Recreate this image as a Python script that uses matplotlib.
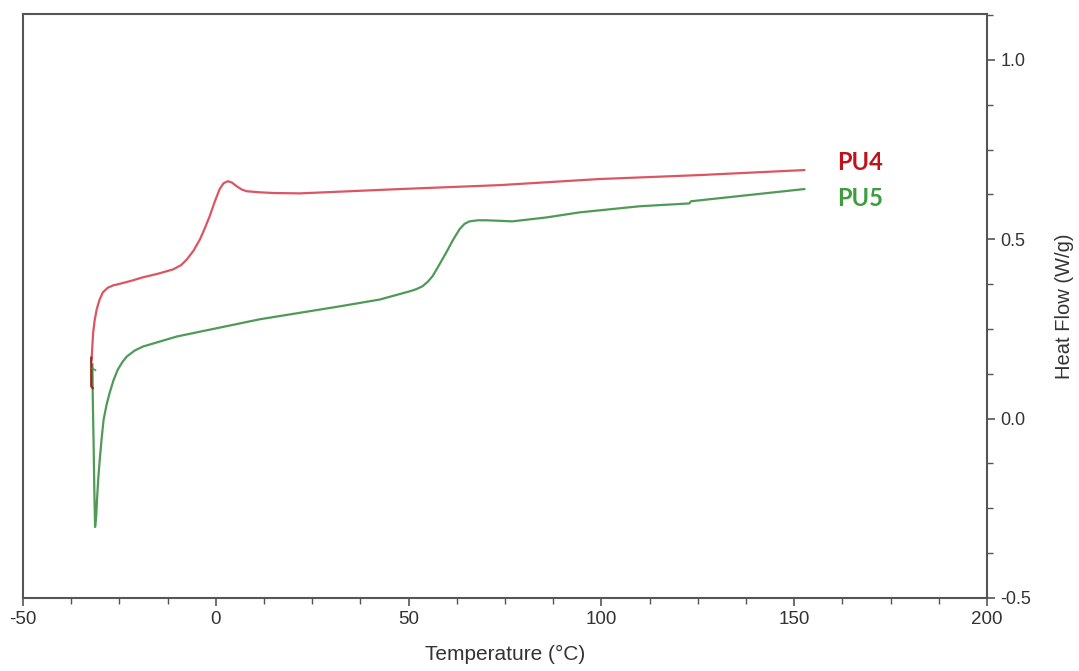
import matplotlib.pyplot as plt
from matplotlib.ticker import MultipleLocator

# Curvas DSC
temp_pu4 = [-32.2, -32.0, -31.8, -31.4, -30.9, -30.2, -29.3, -28.0, -26.5, -25.6,
            -22.0, -18.9, -15.0, -11.1, -9.0, -7.5, -5.8, -4.1, -2.8, -1.6,
            -0.3, 1.0, 2.0, 3.1, 4.2, 5.4, 6.7, 8.0, 11.4, 15.0,
            21.8, 47.7, 73.6, 99.5, 125.4, 152.6]
flujo_pu4 = [0.165, 0.205, 0.240, 0.275, 0.304, 0.330, 0.352, 0.365, 0.372, 0.374,
             0.384, 0.394, 0.404, 0.416, 0.428, 0.444, 0.468, 0.500, 0.532, 0.564,
             0.604, 0.640, 0.656, 0.662, 0.658, 0.648, 0.639, 0.634, 0.631, 0.629,
             0.628, 0.640, 0.651, 0.668, 0.679, 0.693]

temp_pu5 = [-32.0, -31.9, -31.7, -31.5, -31.3, -31.0, -30.8, -30.5, -30.1, -29.6,
            -29.1, -28.3, -27.5, -26.5, -25.4, -24.2, -23.1, -21.0, -18.9, -10.1,
            11.4, 32.1, 42.5, 50.3, 52.0, 53.6, 55.0, 56.2, 58.0, 59.8,
            61.5, 63.2, 64.5, 65.8, 68.0, 70.2, 76.9, 85.8, 94.3, 109.8,
            122.8, 123.2, 152.6]
flujo_pu5 = [0.151, 0.053, -0.060, -0.200, -0.302, -0.270, -0.226, -0.170, -0.115, -0.055,
             -0.003, 0.040, 0.073, 0.108, 0.137, 0.158, 0.173, 0.190, 0.201, 0.229,
             0.277, 0.313, 0.332, 0.355, 0.361, 0.369, 0.382, 0.397, 0.430, 0.464,
             0.498, 0.528, 0.543, 0.550, 0.553, 0.553, 0.550, 0.561, 0.575, 0.592,
             0.600, 0.606, 0.640]

# pequeños ganchos al inicio
gancho_t = [-32.3, -32.3, -31.9]
gancho_f = [0.170, 0.090, 0.085]
gancho5_t = [-32.0, -31.2]
gancho5_f = [0.140, 0.135]

etiquetas = ["PU4", "PU5"]
colores_linea = ["#dc5563", "#4e9a57"]
colores_texto = ["#c0121c", "#3d9d3d"]

plt.rcParams['font.family'] = ['Liberation Sans', 'DejaVu Sans']
plt.rcParams['axes.unicode_minus'] = False

fig = plt.figure(figsize=(10.79, 6.71), dpi=100)
ax = fig.add_axes([0.0213, 0.1088, 0.8935, 0.8703])

ax.plot(temp_pu4, flujo_pu4, color=colores_linea[0], lw=1.6)
ax.plot(temp_pu5, flujo_pu5, color=colores_linea[1], lw=1.6)
ax.plot(gancho_t, gancho_f, color="#9a2a1a", lw=1.6)
ax.plot(gancho5_t, gancho5_f, color=colores_linea[1], lw=1.2)

ax.text(161, 0.715, etiquetas[0], color=colores_texto[0], fontsize=17,
        fontweight="bold", family=["Lato", "DejaVu Sans"], ha="left", va="center")
ax.text(161, 0.615, etiquetas[1], color=colores_texto[1], fontsize=17,
        fontweight="bold", family=["Lato", "DejaVu Sans"], ha="left", va="center")

ax.set_xlim(-50, 200)
ax.set_ylim(-0.5, 1.128)
ax.xaxis.set_major_locator(MultipleLocator(50))
ax.xaxis.set_minor_locator(MultipleLocator(12.5))
ax.yaxis.set_major_locator(MultipleLocator(0.5))
ax.yaxis.set_minor_locator(MultipleLocator(0.125))
ax.yaxis.tick_right()
ax.yaxis.set_label_position("right")
ax.yaxis.set_major_formatter(plt.FuncFormatter(lambda v, p: f"{v:.1f}"))

for s in ax.spines.values():
    s.set_color("#555555")
    s.set_linewidth(1.5)

ax.tick_params(axis="both", which="both", direction="out", color="#555555",
               labelcolor="#333333")
ax.tick_params(axis="x", labelsize=13.5)
ax.tick_params(axis="y", labelsize=13)
ax.tick_params(axis="both", which="major", length=6, width=1.2)
ax.tick_params(axis="both", which="minor", length=4, width=1.0)
ax.tick_params(axis="y", which="both", left=False, right=True)

ax.set_xlabel("Temperature (°C)", fontsize=15, color="#333333", labelpad=12)
ax.set_ylabel("Heat Flow (W/g)", fontsize=14.5, color="#333333", labelpad=17)

fig.savefig("out.png", dpi=100)
